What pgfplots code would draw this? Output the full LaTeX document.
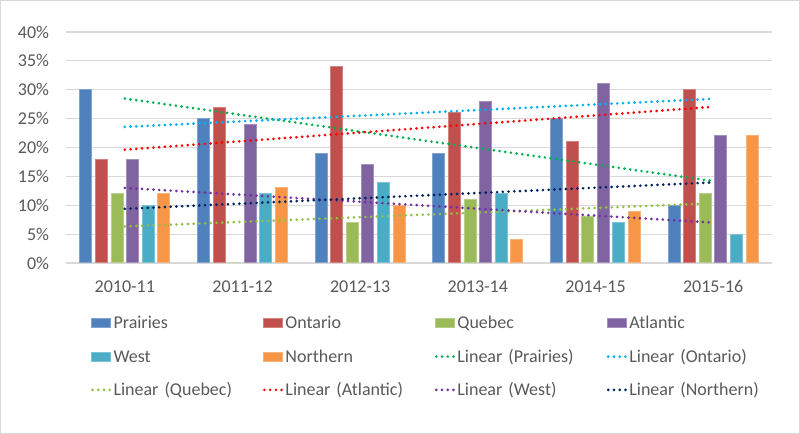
\documentclass[border=0pt]{standalone}
\usepackage{pgfplots}
\pgfplotsset{compat=1.18}
\usepackage{fontspec}
\setmainfont{Carlito}
\definecolor{cPr}{HTML}{4F81BD}
\definecolor{cOn}{HTML}{C0504D}
\definecolor{cQu}{HTML}{9BBB59}
\definecolor{cAt}{HTML}{8064A2}
\definecolor{cWe}{HTML}{4BACC6}
\definecolor{cNo}{HTML}{F79646}
\definecolor{tPr}{HTML}{00B050}
\definecolor{tOn}{HTML}{00B0F0}
\definecolor{tQu}{HTML}{92C045}
\definecolor{tAt}{HTML}{FF0000}
\definecolor{tWe}{HTML}{7030A0}
\definecolor{tNo}{HTML}{002060}
\definecolor{cGrid}{HTML}{D9D9D9}
\definecolor{cText}{HTML}{595959}
\pgfplotsset{
  bstyle/.style={ybar, bar width=0.102, fill=#1, draw=#1!72!white, line width=0.75pt,
    legend image code/.code={\draw[##1, line width=0.75pt] (0.375pt,-3.375pt) rectangle (14.625pt,3.375pt);}},
  tstyle/.style={color=#1, line width=2.2pt, line cap=round, dash pattern=on 0pt off 4.3pt, mark=none,
    legend image code/.code={\draw[##1, dash pattern=on 0pt off 4.3pt] (1pt,0pt) -- (14pt,0pt);}},
}
\begin{document}
\begin{tikzpicture}
\useasboundingbox (0,0) rectangle (600pt,325.5pt);
\draw[draw=cGrid, line width=0.75pt] (0.375pt,0.375pt) rectangle (599.625pt,325.125pt);
\begin{axis}[
  at={(49.5pt,128.25pt)}, anchor=south west,
  scale only axis, width=529.5pt, height=173.25pt,
  xmin=-0.5, xmax=5.5, ymin=0, ymax=40,
  xtick={0,1,2,3,4,5},
  xticklabels={2010-11,2011-12,2012-13,2013-14,2014-15,2015-16},
  ytick={0,5,...,40},
  yticklabel={\pgfmathprintnumber{\tick}\%},
  /pgf/number format/assume math mode=true,
  axis line style={draw=none}, major tick length=0pt,
  ymajorgrids, grid style={draw=cGrid, line width=0.9pt},
  tick label style={font=\fontsize{13.5}{16}\selectfont, text=cText},
  xticklabel style={anchor=base, yshift=-22.5pt},
  yticklabel style={anchor=east, inner sep=0pt, xshift=-12.5pt},
  legend columns=4,
  legend style={
    at={(0.0354,-0.2186)}, anchor=north west,
    draw=none, fill=none, inner sep=0pt, outer sep=0pt,
    column sep=1.7pt, row sep=10.4pt,
    font=\fontsize{13.5}{16}\selectfont, text=cText,
    cells={anchor=west},
    nodes={inner sep=0pt, outer sep=0pt, text height=11.6pt, text depth=3pt,
      text width=110.35pt, text=cText},
  },
]
\addplot[bstyle=cPr, bar shift=-0.3315] coordinates {(0,30) (1,25) (2,19) (3,19) (4,25) (5,10)};
\addplot[bstyle=cOn, bar shift=-0.1989] coordinates {(0,18) (1,27) (2,34) (3,26) (4,21) (5,30)};
\addplot[bstyle=cQu, bar shift=-0.0663] coordinates {(0,12) (1,0) (2,7) (3,11) (4,8) (5,12)};
\addplot[bstyle=cAt, bar shift=0.0663] coordinates {(0,18) (1,24) (2,17) (3,28) (4,31) (5,22)};
\addplot[bstyle=cWe, bar shift=0.1989] coordinates {(0,10) (1,12) (2,14) (3,12) (4,7) (5,5)};
\addplot[bstyle=cNo, bar shift=0.3315] coordinates {(0,12) (1,13) (2,10) (3,4) (4,9) (5,22)};
\addplot[tstyle=tPr] coordinates {(0,28.476) (5,14.190)};
\addplot[tstyle=tOn] coordinates {(0,23.571) (5,28.429)};
\addplot[tstyle=tQu] coordinates {(0,6.333) (5,10.333)};
\addplot[tstyle=tAt] coordinates {(0,19.619) (5,27.048)};
\addplot[tstyle=tWe] coordinates {(0,13.000) (5,7.000)};
\addplot[tstyle=tNo] coordinates {(0,9.381) (5,13.952)};
\legend{Prairies,Ontario,Quebec,Atlantic,West,Northern,Linear (Prairies),Linear (Ontario),Linear (Quebec),Linear (Atlantic),Linear (West),Linear (Northern)}
\end{axis}
\end{tikzpicture}
\end{document}
